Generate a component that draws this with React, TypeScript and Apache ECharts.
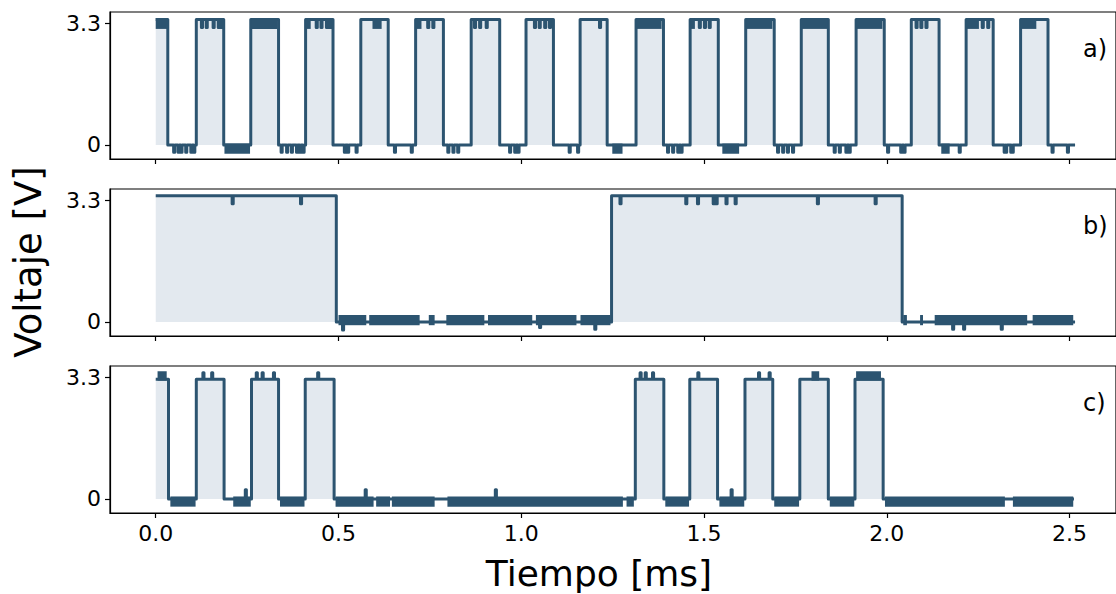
import React, { useEffect, useRef } from "react";
import * as echarts from "echarts";

// ---------------- data ----------------
const X_TICKS = [0, 0.5, 1.0, 1.5, 2.0, 2.5];
const Y_TICKS = [0, 3.3];
const PANEL_LABELS = ["a)", "b)", "c)"];
const X_LABEL = "Tiempo [ms]";
const Y_LABEL = "Voltaje [V]";

// Panel a: clock-like signal (starts high)
const edgesA = [0.033, 0.111, 0.186, 0.260, 0.336, 0.410, 0.485, 0.561, 0.636, 0.711, 0.787, 0.863, 0.941, 1.013, 1.088, 1.161, 1.235, 1.314, 1.389, 1.462, 1.539, 1.614, 1.692, 1.766, 1.840, 1.916, 1.993, 2.067, 2.143, 2.217, 2.291, 2.366, 2.441];
const levelsA = [3.4, 0];
const endA = 2.515;
const spikesA: [number, number][] = [
  [0.049, -0.2], [0.061, -0.2], [0.069, -0.2], [0.082, -0.2], [0.096, -0.2], [0.104, -0.2],
  [0.125, 3.18], [0.138, 3.18], [0.157, 3.18], [0.171, 3.18], [0.177, 3.18],
  [0.343, -0.2], [0.358, -0.2], [0.371, -0.2], [0.385, -0.2], [0.394, -0.2], [0.403, -0.2],
  [0.439, 3.18], [0.452, 3.18], [0.467, 3.18], [0.476, 3.18],
  [0.516, -0.2], [0.525, -0.2], [0.548, -0.2], [0.653, -0.2], [0.699, -0.2],
  [0.744, 3.18], [0.758, 3.18],
  [0.799, -0.2], [0.813, -0.2], [0.826, -0.2],
  [0.872, 3.18], [0.886, 3.18], [0.904, 3.18],
  [0.968, -0.2], [0.982, -0.2], [0.991, -0.2],
  [1.036, 3.18], [1.049, 3.18], [1.064, 3.18], [1.077, 3.18],
  [1.131, -0.2], [1.154, -0.2], [1.214, 3.18],
  [1.400, -0.2], [1.414, -0.2], [1.428, -0.2], [1.437, -0.2],
  [1.487, 3.18], [1.501, 3.18], [1.514, 3.18],
  [1.701, -0.2], [1.715, -0.2], [1.728, -0.2], [1.742, -0.2],
  [1.856, -0.2], [1.870, -0.2], [1.888, -0.2], [1.897, -0.2],
  [2.002, -0.2], [2.038, -0.2], [2.047, -0.2],
  [2.080, 3.18], [2.093, 3.18], [2.107, 3.18],
  [2.198, -0.2], [2.261, 3.18], [2.276, 3.18],
  [2.321, -0.2], [2.325, -0.2], [2.339, -0.2], [2.343, -0.2],
  [2.452, -0.2], [2.494, -0.2],
];
// noise bands [t0, t1, vLow, vHigh]
const bandsA: [number, number, number, number][] = [
  [0.0, 0.033, 3.18, 3.4], [0.263, 0.333, 3.18, 3.4], [0.410, 0.424, 3.18, 3.4], [0.593, 0.618, 3.18, 3.4],
  [0.711, 0.727, 3.18, 3.4], [1.314, 1.384, 3.18, 3.4], [1.462, 1.475, 3.18, 3.4], [1.616, 1.687, 3.18, 3.4],
  [1.768, 1.838, 3.18, 3.4], [1.916, 1.988, 3.18, 3.4], [2.217, 2.252, 3.18, 3.4], [2.366, 2.409, 3.18, 3.4],
  [0.188, 0.258, -0.2, 0], [1.249, 1.277, -0.2, 0], [1.550, 1.596, -0.2, 0], [2.149, 2.172, -0.2, 0],
];

// Panel b: slow signal (starts high)
const edgesB = [0.494, 1.247, 2.042];
const levelsB = [3.42, 0];
const endB = 2.515;
const spikesB: [number, number][] = [
  [0.209, 3.2], [0.396, 3.2], [1.270, 3.2], [1.450, 3.2], [1.482, 3.2], [1.525, 3.2], [1.533, 3.2],
  [1.560, 3.2], [1.585, 3.2], [1.810, 3.2], [1.968, 3.2],
  [0.511, -0.22], [1.050, -0.15], [1.201, -0.2], [2.180, -0.2], [2.210, -0.2], [2.313, -0.2],
];
const bandsB: [number, number, number, number][] = [
  [0.500, 0.576, -0.05, 0.15], [0.584, 0.722, -0.05, 0.15], [0.747, 0.763, -0.05, 0.15],
  [0.795, 0.899, -0.05, 0.15], [0.909, 1.030, -0.05, 0.15], [1.040, 1.151, -0.05, 0.15],
  [1.162, 1.244, -0.05, 0.15], [2.045, 2.055, -0.05, 0.15], [2.091, 2.099, -0.05, 0.15],
  [2.131, 2.384, -0.05, 0.15], [2.399, 2.510, -0.05, 0.15],
];

// Panel c: burst signal (starts high)
const edgesC = [0.035, 0.111, 0.187, 0.262, 0.336, 0.409, 0.488, 1.312, 1.390, 1.461, 1.537, 1.612, 1.688, 1.762, 1.840, 1.913, 1.990];
const levelsC = [3.24, 0];
const endC = 2.512;
const spikesC: [number, number][] = [
  [0.129, 3.42], [0.153, 3.42], [0.275, 3.42], [0.291, 3.42], [0.322, 3.42], [0.443, 3.42],
  [1.325, 3.42], [1.339, 3.42], [1.359, 3.42], [1.483, 3.42], [1.649, 3.42], [1.678, 3.42],
  [0.245, 0.25], [0.573, 0.25], [0.929, 0.25], [1.574, 0.25],
];
const bandsC: [number, number, number, number][] = [
  [0.005, 0.030, 3.24, 3.42], [1.794, 1.815, 3.24, 3.42], [1.916, 1.984, 3.24, 3.42],
  [0.040, 0.109, -0.17, 0.03], [0.212, 0.260, -0.17, 0.03], [0.340, 0.407, -0.17, 0.03],
  [0.492, 0.596, -0.17, 0.03], [0.603, 0.641, -0.17, 0.03], [0.646, 0.763, -0.17, 0.03],
  [0.798, 1.278, -0.17, 0.03], [1.288, 1.308, -0.17, 0.03], [1.394, 1.459, -0.17, 0.03],
  [1.542, 1.610, -0.17, 0.03], [1.692, 1.760, -0.17, 0.03], [1.844, 1.911, -0.17, 0.03],
  [1.995, 2.323, -0.17, 0.03], [2.345, 2.510, -0.17, 0.03],
];

// ---------------- styling ----------------
const LINE_COLOR = "#2c5470";
const FILL_COLOR = "rgba(60,100,140,0.2)";
const FONT = "DejaVu Sans";
const SPIKE_W = 0.003;
const X_MIN = -0.1251;
const X_MAX = 2.627;
const Y_MIN = -0.38;
const Y_MAX = 3.6;
const GRID_TOPS = [12, 189, 366];
const GRID_H = 147;
const GRID_LEFT = 110;
const GRID_W = 1012;

function buildTrace(edges: number[], levels: number[], end: number, spikes: [number, number][]) {
  const high = levels[0];
  const low = levels[1];
  type Ev = { t: number; edge: boolean; v: number };
  const evs: Ev[] = [
    ...edges.map((t) => ({ t, edge: true, v: 0 })),
    ...spikes.map(([t, v]) => ({ t, edge: false, v })),
  ].sort((p, q) => p.t - q.t);
  let level = high;
  const pts: number[][] = [[0, level]];
  for (const e of evs) {
    if (e.edge) {
      pts.push([e.t, level]);
      level = level === high ? low : high;
      pts.push([e.t, level]);
    } else {
      pts.push([e.t, level], [e.t, e.v], [e.t + SPIKE_W, e.v], [e.t + SPIKE_W, level]);
    }
  }
  pts.push([end, level]);
  return pts;
}

export default function App() {
  const ref = useRef<HTMLDivElement>(null);
  useEffect(() => {
    if (!ref.current) return;
    const chart = echarts.init(ref.current, undefined, { renderer: "svg" });
    const traces = [
      buildTrace(edgesA, levelsA, endA, spikesA),
      buildTrace(edgesB, levelsB, endB, spikesB),
      buildTrace(edgesC, levelsC, endC, spikesC),
    ];
    const bands = [bandsA, bandsB, bandsC];

    const grids = GRID_TOPS.map((top) => ({
      left: GRID_LEFT,
      top,
      width: GRID_W,
      height: GRID_H,
      show: true,
      borderColor: "#000",
      borderWidth: 1.2,
      backgroundColor: "transparent",
    }));
    const xAxes = GRID_TOPS.map((_, i) => ({
      type: "value",
      gridIndex: i,
      min: X_MIN,
      max: X_MAX,
      splitLine: { show: false },
      axisLine: { show: true, onZero: false, lineStyle: { color: "#000", width: 1.2 } },
      axisTick: { show: true, inside: false, length: 5, customValues: X_TICKS, lineStyle: { color: "#000", width: 1.2 } },
      axisLabel: {
        show: i === 2,
        customValues: X_TICKS,
        formatter: (v: number) => v.toFixed(1),
        fontSize: 22,
        color: "#000",
        fontFamily: FONT,
        margin: 9,
      },
    }));
    const yAxes = GRID_TOPS.map((_, i) => ({
      type: "value",
      gridIndex: i,
      min: Y_MIN,
      max: Y_MAX,
      splitLine: { show: false },
      axisLine: { show: true, onZero: false, lineStyle: { color: "#000", width: 1.2 } },
      axisTick: { show: true, inside: false, length: 5, customValues: Y_TICKS, lineStyle: { color: "#000", width: 1.2 } },
      axisLabel: {
        customValues: Y_TICKS,
        formatter: (v: number) => (v === 0 ? "0" : v.toFixed(1)),
        fontSize: 22,
        color: "#000",
        fontFamily: FONT,
        margin: 9,
      },
    }));
    const series: any[] = [];
    traces.forEach((tr, i) => {
      series.push({
        type: "line",
        xAxisIndex: i,
        yAxisIndex: i,
        data: tr,
        showSymbol: false,
        symbol: "none",
        clip: true,
        lineStyle: { color: LINE_COLOR, width: 3, join: "round" },
        areaStyle: { color: FILL_COLOR, origin: "auto" },
        z: 2,
      });
      series.push({
        type: "custom",
        xAxisIndex: i,
        yAxisIndex: i,
        data: bands[i],
        encode: { x: [0, 1], y: [2, 3] },
        clip: true,
        z: 3,
        renderItem: (_p: any, api: any) => {
          const a = api.coord([api.value(0), api.value(3)]);
          const b = api.coord([api.value(1), api.value(2)]);
          return {
            type: "rect",
            shape: { x: a[0], y: a[1] - 1.4, width: b[0] - a[0], height: b[1] - a[1] + 2.8 },
            style: { fill: LINE_COLOR },
          };
        },
      });
    });
    const graphic: any[] = PANEL_LABELS.map((t, i) => ({
      type: "text",
      x: 1083,
      y: GRID_TOPS[i] + 37,
      style: { text: t, fontSize: 24, fontFamily: FONT, fill: "#000", verticalAlign: "middle", align: "left" },
    }));
    graphic.push({
      type: "text",
      x: 28,
      y: 262,
      rotation: Math.PI / 2,
      style: { text: Y_LABEL, fontSize: 37, fontFamily: FONT, fill: "#000", align: "center", verticalAlign: "middle" },
    });
    graphic.push({
      type: "text",
      x: 599,
      y: 573,
      style: { text: X_LABEL, fontSize: 36, fontFamily: FONT, fill: "#000", align: "center", verticalAlign: "middle" },
    });
    chart.setOption({
      animation: false,
      backgroundColor: "#fff",
      grid: grids,
      xAxis: xAxes,
      yAxis: yAxes,
      series,
      graphic,
    });
    return () => chart.dispose();
  }, []);
  return <div ref={ref} style={{ position: "fixed", left: 0, top: 0, width: 1116, height: 594 }} />;
}
